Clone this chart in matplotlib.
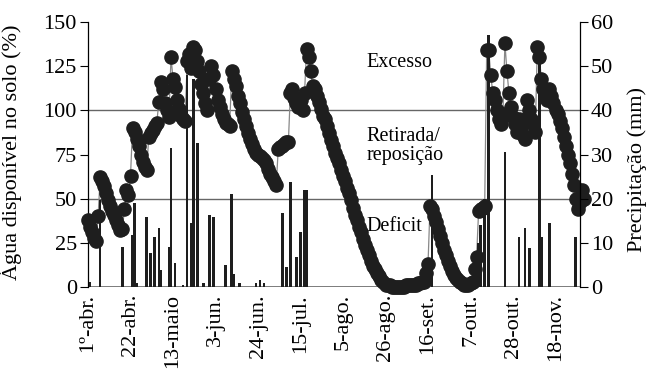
import numpy as np
import matplotlib
matplotlib.use("Agg")
import matplotlib.pyplot as plt

plt.rcParams['font.family'] = ['Liberation Serif', 'DejaVu Serif']

# ---------------- dados ----------------
# agua disponivel no solo (%), um valor por dia a partir de 1-abr
agua = [
    38, 34, 31, 28, 26, 40, 62, 60, 57, 53,
    49, 46, 43, 41, 38, 35, 32, 33, 44, 55,
    52, 63, 90, 88, 84, 80, 75, 71, 68, 66,
    85, 87, 89, 91, 93, 105, 116, 112, 104, 100,
    96, 130, 118, 113, 106, 101, 97, 95, 94, 128,
    132, 124, 136, 134, 128, 122, 115, 110, 104, 100,
    118, 125, 120, 112, 106, 102, 98, 95, 93, 92,
    91, 122, 118, 114, 108, 104, 99, 95, 91, 87,
    84, 81, 78, 76, 75, 74, 73, 72, 70, 67,
    64, 62, 60, 58, 78, 79, 80, 81, 82, 82,
    110, 112, 107, 104, 102, 106, 100, 110, 135, 130,
    122, 114, 112, 108, 105, 101, 97, 95, 91, 87,
    83, 80, 76, 73, 70, 66, 63, 60, 56, 53,
    49, 45, 41, 38, 34, 31, 27, 24, 21, 18,
    15, 12, 10, 8, 6, 4, 3, 1, 1, 1,
    0, 0, 0, 0, 0, 0, 0, 1, 1, 1,
    1, 1, 1, 2, 2, 3, 3, 8, 13, 46,
    44, 40, 37, 33, 29, 25, 21, 18, 15, 12,
    9, 7, 5, 4, 3, 2, 1, 1, 1, 2,
    3, 10, 17, 43, 44, 45, 46, 134, 134, 120,
    110, 106, 100, 95, 92, 98, 138, 122, 110, 102,
    96, 92, 88, 95, 90, 86, 84, 106, 100, 95,
    92, 88, 136, 130, 118, 112, 110, 106, 112, 108,
    104, 100, 98, 94, 90, 85, 80, 75, 70, 64,
    58, 50, 44, 48, 55, 50,
]
dias = np.arange(len(agua))

# precipitacao (mm): dia e altura
chuva_dia = [1, 6, 17, 22, 23, 24, 29, 31, 33, 35, 36, 40, 41, 43, 47,
             49, 51, 52, 54, 57, 60, 62, 68, 71, 72, 75, 83, 85, 87,
             96, 98, 100, 103, 105, 107, 108, 170,
             192, 193, 194, 196, 198, 206, 213, 216, 218, 223, 224, 228, 241]
chuva_mm = [1.2, 19.7, 9, 11.8, 19, 1, 15.8, 7.7, 11.4, 13.3, 3.8, 9, 31.4, 5.4, 0.5,
            48, 14.5, 47, 32.6, 1, 16.3, 15.8, 5, 21, 3, 1, 1, 1.5, 1,
            16.7, 4.5, 23.8, 6.7, 12.5, 22, 22, 25.3,
            4, 10, 14, 20, 57, 30.5, 11.3, 13.3, 8.8, 54, 11.3, 14.5, 11.3]

tick_dias = [0, 21, 42, 63, 84, 105, 126, 147, 168, 189, 210, 231]
tick_txt = ['1º-abr.', '22-abr.', '13-maio', '3-jun.', '24-jun.', '15-jul.',
            '5-ago.', '26-ago.', '16-set.', '7-out.', '28-out.', '18-nov.']

# ---------------- grafico ----------------
fig = plt.figure(figsize=(6.5, 3.7), dpi=100)
ax = fig.add_axes([0.1354, 0.2243, 0.7566, 0.7162])

ax.axhline(50, color='#666666', lw=1, zorder=1)
ax.axhline(100, color='#666666', lw=1, zorder=1)
ax.axhline(0, color='#666666', lw=1.2, zorder=1)

ax.plot(dias, agua, color='#888888', lw=0.9, zorder=2, clip_on=False)
ax.plot(dias, agua, 'o', color='#1e1e1e', ms=9.5, zorder=3, clip_on=False)

ax.set_xlim(0, 243)
ax.set_ylim(0, 150)
ax.set_yticks(np.arange(0, 151, 25))
ax.set_xticks(tick_dias)
ax.set_xticklabels(tick_txt, rotation=90, fontsize=16)
ax.tick_params(axis='x', length=0, pad=5)
ax.tick_params(axis='y', labelsize=16, length=6, width=0.8, direction='out', pad=2)
ax.set_ylabel('Água disponível no solo (%)', fontsize=16)
ax.yaxis.set_label_coords(-0.134, 0.51)

for s in ['top', 'bottom', 'right']:
    ax.spines[s].set_visible(False)
ax.spines['left'].set_linewidth(0.9)

ax.text(137.5, 127, 'Excesso', fontsize=14.5, va='center', ha='left')
ax.text(137.5, 80, 'Retirada/\nreposição', fontsize=14.5, va='center', ha='left',
        linespacing=1.0)
ax.text(137.5, 34, 'Deficit', fontsize=14.5, va='center', ha='left')

ax2 = ax.twinx()
ax2.bar(chuva_dia, chuva_mm, width=1.3, color='#1e1e1e', zorder=4)
ax2.set_ylim(0, 60)
ax2.set_yticks(np.arange(0, 61, 10))
ax2.tick_params(axis='y', labelsize=16, length=6, width=0.8, direction='out', pad=2)
ax2.set_ylabel('Precipitação (mm)', fontsize=16)
ax2.yaxis.set_label_coords(1.096, 0.445)
for s in ['top', 'bottom', 'left']:
    ax2.spines[s].set_visible(False)
ax2.spines['right'].set_linewidth(0.9)

fig.savefig('out.png', dpi=100)
